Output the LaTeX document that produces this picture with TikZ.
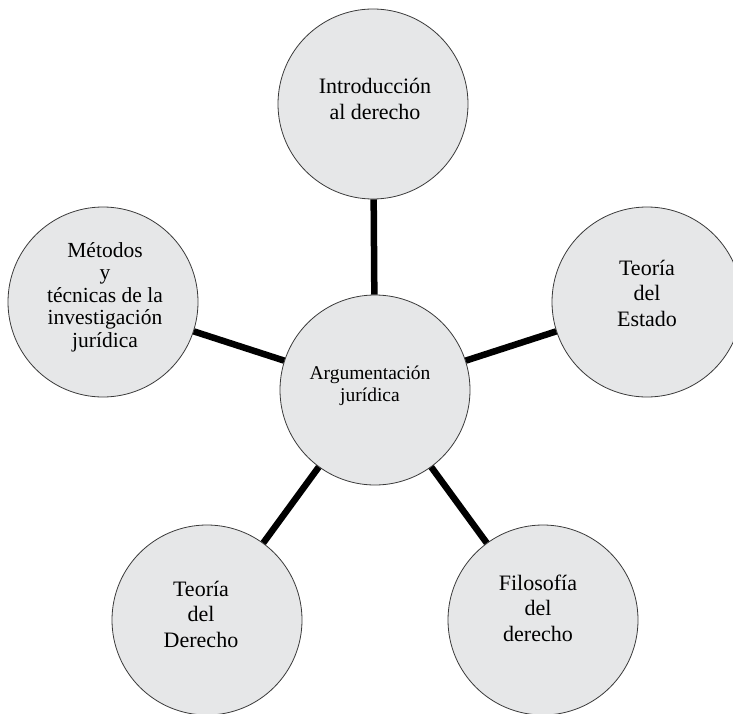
\documentclass[tikz,border=0pt]{standalone}
\usepackage{fontspec}
\setmainfont{Liberation Serif}
\definecolor{bubblefill}{HTML}{E6E7E8}
\definecolor{outline}{HTML}{3A3A3A}
\begin{document}
\begin{tikzpicture}[x=1pt,y=-1pt,
  bubble/.style={circle, draw=outline, line width=0.8pt, fill=bubblefill, minimum size=190pt, inner sep=0pt},
  txt/.style={align=center, inner sep=0pt, font=\fontsize{22}{25.5}\selectfont},
  txtsmall/.style={align=center, inner sep=0pt, font=\fontsize{21.5}{22.5}\selectfont},
  txtcenter/.style={align=center, inner sep=0pt, font=\fontsize{19.5}{22.5}\selectfont},
  link/.style={line width=6.5pt, draw=black}]
\useasboundingbox (0,0) rectangle (733,714);
\clip (0,0) rectangle (733,714);
% circles
\node[bubble] (C)  at (375,390) {};
\node[bubble] (T)  at (373,104) {};
\node[bubble] (L)  at (103,302) {};
\node[bubble] (R)  at (647,302) {};
\node[bubble] (BL) at (207,620) {};
\node[bubble] (BR) at (543,620) {};
% connectors
\draw[link] (C) -- (T);
\draw[link] (C) -- (L);
\draw[link] (C) -- (R);
\draw[link] (C) -- (BL);
\draw[link] (C) -- (BR);
% texts
\node[txtcenter] (Ct) at ([xshift=-5pt,yshift=4pt]C.center) {Argumentación\\jurídica};
\node[txt] (Tt) at ([xshift=2pt,yshift=5pt]T.center) {Introducción\\al derecho};
\node[txtsmall] (Lt) at ([xshift=2pt,yshift=5pt]L.center) {Métodos\\y\\técnicas de la\\investigación\\jurídica};
\node[txt] (Rt) at ([xshift=0pt,yshift=9pt]R.center) {Teoría\\del\\Estado};
\node[txt] (BLt) at ([xshift=-6pt,yshift=6pt]BL.center) {Teoría\\del\\Derecho};
\node[txt] (BRt) at ([xshift=-5pt,yshift=12pt]BR.center) {Filosofía\\del\\derecho};
\end{tikzpicture}
\end{document}
